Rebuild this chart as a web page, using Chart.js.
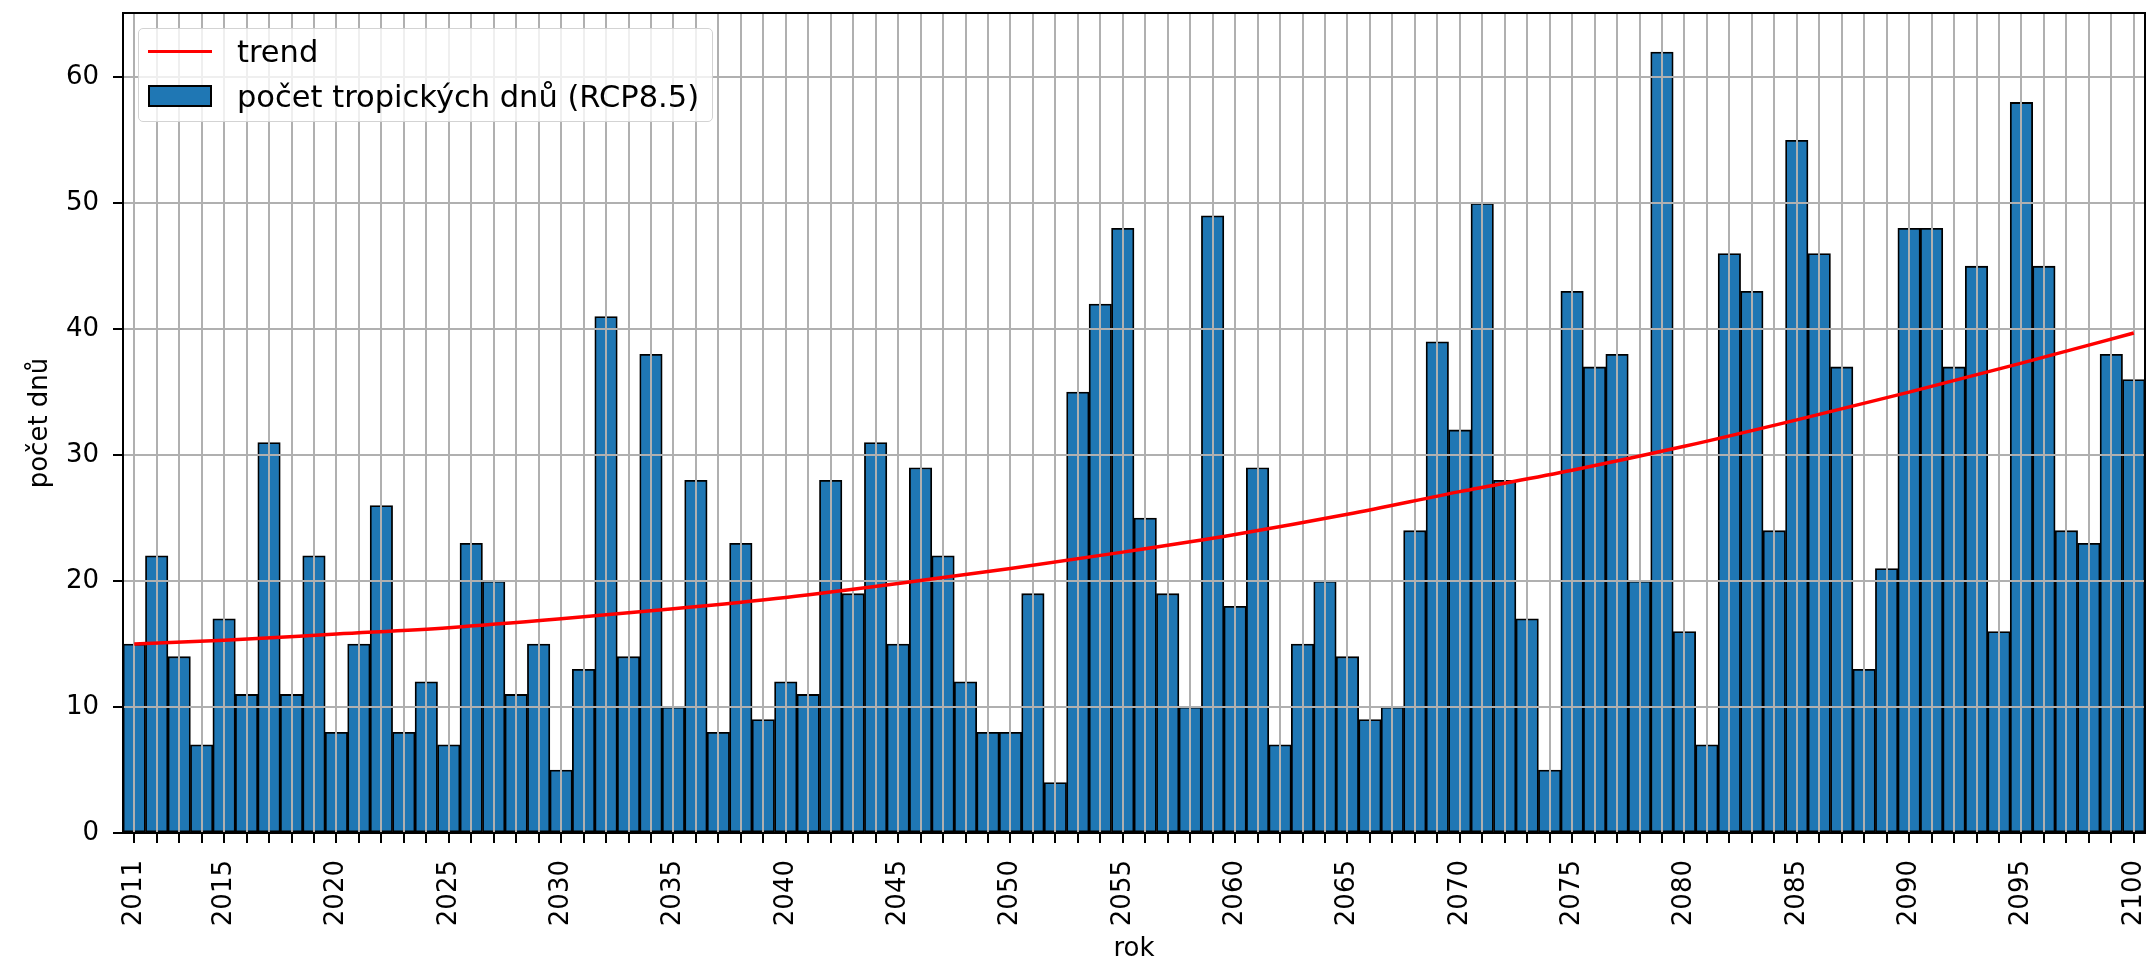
<!DOCTYPE html>
<html lang="cs">
<head>
    <meta charset="UTF-8">
    <title>Počet tropických dnů (RCP8.5)</title>
    <script src="https://cdn.jsdelivr.net/npm/chart.js"></script>
    <style>
        html, body {
            margin: 0;
            padding: 0;
            background: #fff;
        }
        #wrap {
            position: relative;
            width: 2148px;
            height: 965px;
        }
        #legend {
            position: absolute;
            left: 138px;
            top: 28px;
            width: 575px;
            height: 94px;
            box-sizing: border-box;
            border: 1.5px solid #d3d3d3;
            border-radius: 5px;
            background: rgba(255, 255, 255, 0.8);
            font-family: 'DejaVu Sans', sans-serif;
            font-size: 30.5px;
            color: #000;
        }
        .row {
            position: absolute;
            left: 9px;
            height: 36px;
            display: flex;
            align-items: center;
            white-space: nowrap;
        }
        .sample {
            width: 64px;
            margin-right: 25px;
            box-sizing: border-box;
        }
    </style>
</head>
<body>
    <div id="wrap">
        <canvas id="chart" width="2148" height="965"></canvas>
        <div id="legend"></div>
    </div>

    <script>
        // roky (kategorie osy x)
        const years = [
            '2011', '2012', '2013', '2014', '2015', '2016', '2017', '2018', '2019', '2020',
            '2021', '2022', '2023', '2024', '2025', '2026', '2027', '2028', '2029', '2030',
            '2031', '2032', '2033', '2034', '2035', '2036', '2037', '2038', '2039', '2040',
            '2041', '2042', '2043', '2044', '2045', '2046', '2047', '2048', '2049', '2050',
            '2051', '2052', '2053', '2054', '2055', '2056', '2057', '2058', '2059', '2060',
            '2061', '2062', '2063', '2064', '2065', '2066', '2067', '2068', '2069', '2070',
            '2071', '2072', '2073', '2074', '2075', '2076', '2077', '2078', '2079', '2080',
            '2081', '2082', '2083', '2084', '2085', '2086', '2087', '2088', '2089', '2090',
            '2091', '2092', '2093', '2094', '2095', '2096', '2097', '2098', '2099', '2100'
        ];

        // počet tropických dnů za rok
        const tropicalDays = [
            15, 22, 14, 7, 17, 11, 31, 11, 22, 8,
            15, 26, 8, 12, 7, 23, 20, 11, 15, 5,
            13, 41, 14, 38, 10, 28, 8, 23, 9, 12,
            11, 28, 19, 31, 15, 29, 22, 12, 8, 8,
            19, 4, 35, 42, 48, 25, 19, 10, 49, 18,
            29, 7, 15, 20, 14, 9, 10, 24, 39, 32,
            50, 28, 17, 5, 43, 37, 38, 20, 62, 16,
            7, 46, 43, 24, 55, 46, 37, 13, 21, 48,
            48, 37, 45, 16, 58, 45, 24, 23, 38, 36
        ];

        // trend
        const trendYears = ['2011', '2015', '2020', '2025', '2030', '2035', '2040', '2045', '2050',
                            '2055', '2060', '2065', '2070', '2075', '2080', '2085', '2090', '2095', '2100'];
        const trendValues = [15.0, 15.3, 15.8, 16.3, 17.0, 17.8, 18.7, 19.8, 21.0,
                             22.3, 23.7, 25.3, 27.1, 28.8, 30.7, 32.8, 35.0, 37.3, 39.7];

        // popisky osy x
        const tickYears = ['2011', '2015', '2020', '2025', '2030', '2035', '2040', '2045', '2050',
                           '2055', '2060', '2065', '2070', '2075', '2080', '2085', '2090', '2095', '2100'];
        const yTicks = [0, 10, 20, 30, 40, 50, 60];

        const barLabel = 'počet tropických dnů (RCP8.5)';
        const trendLabel = 'trend';

        Chart.defaults.font.family = "'DejaVu Sans', sans-serif";
        Chart.defaults.color = '#000';

        // mřížka nad sloupci, ale pod čarou trendu (jako v matplotlibu)
        const gridOnTop = {
            id: 'gridOnTop',
            afterDatasetDraw(chart, args) {
                if (args.meta.type !== 'bar') return;
                const ctx = chart.ctx;
                ctx.save();
                chart.scales.x.drawGrid(chart.chartArea);
                chart.scales.y.drawGrid(chart.chartArea);
                ctx.restore();
            }
        };

        // rámeček kolem celé plochy grafu
        const frame = {
            id: 'frame',
            afterDraw(chart) {
                const a = chart.chartArea;
                const ctx = chart.ctx;
                ctx.save();
                ctx.strokeStyle = '#000';
                ctx.lineWidth = 2;
                ctx.strokeRect(a.left, a.top, a.right - a.left, a.bottom - a.top);
                ctx.restore();
            }
        };

        const ctx = document.getElementById('chart').getContext('2d');
        const chart = new Chart(ctx, {
            type: 'bar',
            data: {
                labels: years,
                datasets: [
                    {
                        type: 'line',
                        label: trendLabel,
                        data: trendYears.map((y, i) => ({ x: y, y: trendValues[i] })),
                        borderColor: '#ff0000',
                        borderWidth: 3.5,
                        pointRadius: 0,
                        cubicInterpolationMode: 'monotone',
                        fill: false,
                        order: 0
                    },
                    {
                        type: 'bar',
                        label: barLabel,
                        data: tropicalDays,
                        backgroundColor: '#1f77b4',
                        borderColor: '#000',
                        borderWidth: 1.8,
                        borderSkipped: false,
                        barPercentage: 1,
                        categoryPercentage: 1,
                        order: 1
                    }
                ]
            },
            options: {
                responsive: false,
                animation: false,
                layout: {
                    padding: { left: 0, right: 3, top: 13, bottom: 0 }
                },
                plugins: {
                    legend: { display: false },
                    tooltip: { enabled: false }
                },
                scales: {
                    x: {
                        type: 'category',
                        offset: true,
                        grid: {
                            offset: false,
                            color: '#b0b0b0',
                            lineWidth: 2,
                            tickColor: '#000',
                            tickLength: 10,
                            tickWidth: 2
                        },
                        border: { display: true, color: '#000', width: 2 },
                        ticks: {
                            autoSkip: false,
                            minRotation: 90,
                            maxRotation: 90,
                            padding: 17,
                            font: { size: 26 },
                            callback: function (val, idx) {
                                const y = years[idx];
                                return tickYears.includes(y) ? y : '';
                            }
                        },
                        title: {
                            display: true,
                            text: 'rok',
                            font: { size: 26 },
                            padding: { top: 0, bottom: 0 }
                        },
                        afterFit: function (scale) {
                            scale.height = 132;
                            scale.paddingLeft = 0;
                            scale.paddingRight = 0;
                        }
                    },
                    y: {
                        min: 0,
                        max: 65.1,
                        grid: {
                            color: '#b0b0b0',
                            lineWidth: 2,
                            tickColor: '#000',
                            tickLength: 10,
                            tickWidth: 2
                        },
                        border: { display: true, color: '#000', width: 2 },
                        ticks: {
                            stepSize: 10,
                            padding: 14,
                            font: { size: 26 }
                        },
                        afterBuildTicks: function (scale) {
                            scale.ticks = yTicks.map(v => ({ value: v }));
                        },
                        title: {
                            display: true,
                            text: 'počet dnů',
                            font: { size: 26 },
                            padding: { top: 25, bottom: 0 }
                        },
                        afterFit: function (scale) {
                            scale.width = 123;
                            scale.paddingTop = 0;
                            scale.paddingBottom = 0;
                        }
                    }
                }
            },
            plugins: [gridOnTop, frame]
        });

        // legenda (matplotlib styl, vlevo nahoře uvnitř grafu)
        function renderLegend() {
            const box = document.getElementById('legend');
            box.innerHTML = '';
            const items = [
                { ds: chart.data.datasets[0], top: 4 },
                { ds: chart.data.datasets[1], top: 49 }
            ];
            items.forEach(item => {
                const row = document.createElement('div');
                row.className = 'row';
                row.style.top = item.top + 'px';
                const sample = document.createElement('span');
                sample.className = 'sample';
                if (item.ds.type === 'line') {
                    sample.style.height = '3px';
                    sample.style.background = item.ds.borderColor;
                } else {
                    sample.style.height = '22px';
                    sample.style.background = item.ds.backgroundColor;
                    sample.style.border = '2px solid ' + item.ds.borderColor;
                }
                const text = document.createElement('span');
                text.textContent = item.ds.label;
                row.appendChild(sample);
                row.appendChild(text);
                box.appendChild(row);
            });
        }
        renderLegend();
    </script>
</body>
</html>
